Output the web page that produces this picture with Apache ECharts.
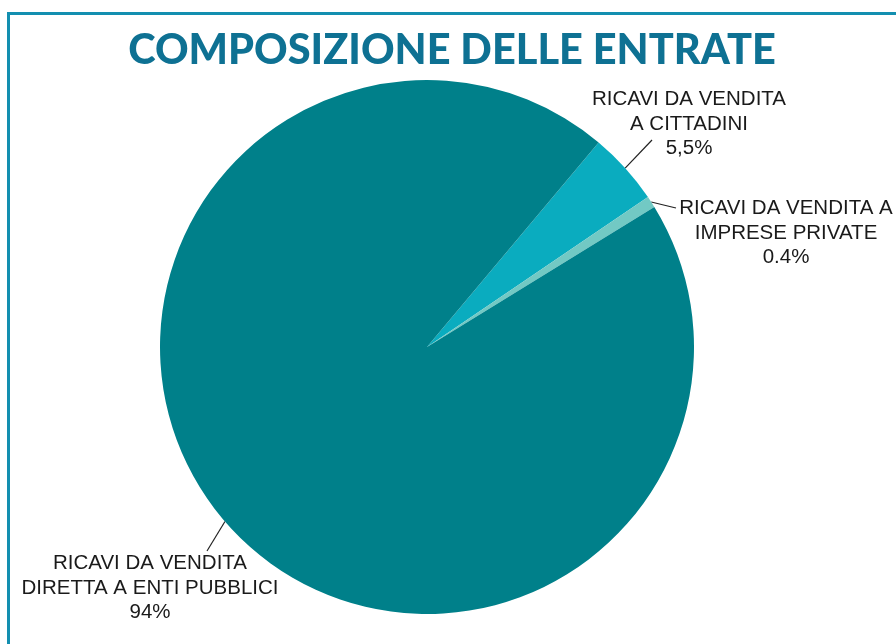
<!DOCTYPE html>
<html>
<head>
<meta charset="utf-8">
<script src="https://cdn.jsdelivr.net/npm/echarts@6/dist/echarts.min.js"></script>
<style>
html,body{margin:0;padding:0;background:#fff;}
#frame{position:absolute;left:7px;top:12px;right:0;bottom:0;border-top:3px solid #138fb0;border-left:3px solid #138fb0;}
#c{position:absolute;left:0;top:0;width:896px;height:644px;}
</style>
</head>
<body>
<div id="frame"></div>
<div id="c"></div>
<script>
const titleText = 'COMPOSIZIONE DELLE ENTRATE';
const categories = ['RICAVI DA VENDITA\nA CITTADINI', 'RICAVI DA VENDITA A\nIMPRESE PRIVATE', 'RICAVI DA VENDITA\nDIRETTA A ENTI PUBBLICI'];
const values = [4.4, 0.7, 94.9];
const valueLabels = ['5,5%', '0.4%', '94%'];
const colors = ['#0aacbf', '#72c9c4', '#00808a'];

const labelPos = [
  {x: 689, y: 124, end: [652, 140]},
  {x: 786, y: 233, end: [676, 208]},
  {x: 150, y: 588, end: [207, 551]}
];

const chart = echarts.init(document.getElementById('c'));
chart.setOption({
  animation: false,
  title: {
    text: titleText,
    left: 447, top: 25, textAlign: 'center',
    textStyle: {fontFamily: 'Lato', fontWeight: 900, fontSize: 41.5, color: '#0e7193'}
  },
  series: [{
    type: 'pie',
    center: [427, 347],
    radius: 267,
    startAngle: 50,
    clockwise: true,
    data: categories.map((n, i) => ({name: n, value: values[i], itemStyle: {color: colors[i]}})),
    label: {
      show: true,
      formatter: p => p.name + '\n' + valueLabels[p.dataIndex],
      fontFamily: 'Liberation Sans',
      fontSize: 20.5,
      lineHeight: 24.5,
      color: '#1a1a1a',
      align: 'center',
      overflow: 'none'
    },
    labelLine: {show: true, lineStyle: {color: '#222', width: 1.2}},
    labelLayout: function (params) {
      const lp = labelPos[params.dataIndex];
      const start = params.labelLinePoints ? params.labelLinePoints[0] : lp.end;
      return {
        x: lp.x, y: lp.y, align: 'center', verticalAlign: 'middle',
        width: 400,
        labelLinePoints: [start, lp.end, lp.end]
      };
    }
  }]
});
</script>
</body>
</html>
